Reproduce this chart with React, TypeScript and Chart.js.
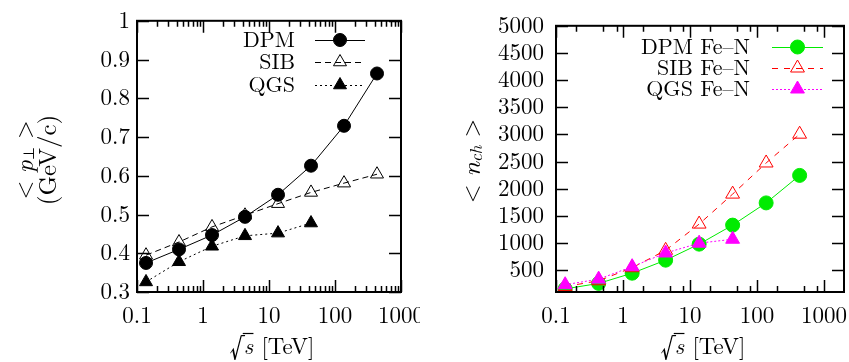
import React, { useEffect, useRef } from 'react';
import { Chart, registerables } from 'chart.js';
Chart.register(...registerables);

// ---- data ----
const sqrtS = [0.137, 0.433, 1.37, 4.33, 13.7, 43.3, 137, 433];
const ptDPM = [0.375, 0.41, 0.447, 0.494, 0.551, 0.626, 0.729, 0.864];
const ptSIB = [0.395, 0.429, 0.468, 0.498, 0.528, 0.557, 0.581, 0.604];
const ptQGS = [0.326, 0.378, 0.418, 0.445, 0.452, 0.478];
const nchDPM = [157, 258, 446, 686, 981, 1331, 1740, 2246];
const nchSIB = [200, 307, 547, 867, 1350, 1902, 2475, 3005];
const nchQGS = [234, 337, 566, 818, 999, 1071];
const xTickValues = [0.1, 1, 10, 100, 1000];
const ptTickValues = [0.3, 0.4, 0.5, 0.6, 0.7, 0.8, 0.9, 1.0];
const nchTickValues = [500, 1000, 1500, 2000, 2500, 3000, 3500, 4000, 4500, 5000];
const leftLabels = ['DPM', 'SIB', 'QGS'];
const rightLabels = ['DPM Fe\u2013N', 'SIB Fe\u2013N', 'QGS Fe\u2013N'];

const FAM = "'Latin Modern Roman', 'Liberation Serif', serif";

type Part = { t: string; font: string; dy?: number };

function drawParts(ctx: CanvasRenderingContext2D, parts: Part[], cx: number, cy: number, rotate: boolean) {
  let total = 0;
  const widths: number[] = [];
  for (const p of parts) {
    ctx.font = p.font;
    const w = ctx.measureText(p.t).width;
    widths.push(w);
    total += w;
  }
  ctx.save();
  ctx.translate(cx, cy);
  if (rotate) ctx.rotate(-Math.PI / 2);
  ctx.textBaseline = 'middle';
  ctx.textAlign = 'left';
  ctx.fillStyle = '#000';
  let x = -total / 2;
  const pos: number[] = [];
  parts.forEach((p, i) => {
    ctx.font = p.font;
    pos.push(x);
    ctx.fillText(p.t, x, p.dy || 0);
    x += widths[i];
  });
  ctx.restore();
  return { start: -total / 2, pos, widths };
}

function drawMarker(ctx: CanvasRenderingContext2D, style: string, x: number, y: number, r: number, fill: string, stroke: string) {
  ctx.beginPath();
  if (style === 'circle') {
    ctx.arc(x, y, r, 0, Math.PI * 2);
  } else {
    const a = (2 * Math.PI) / 3;
    for (let i = 0; i < 3; i++) {
      const px = x + Math.sin(i * a) * r;
      const py = y - Math.cos(i * a) * r;
      if (i === 0) ctx.moveTo(px, py);
      else ctx.lineTo(px, py);
    }
    ctx.closePath();
  }
  ctx.fillStyle = fill;
  ctx.fill();
  ctx.lineWidth = 1;
  ctx.setLineDash([]);
  ctx.strokeStyle = stroke;
  ctx.stroke();
}

type Deco = {
  minorMults: number[];
  legend: { textRight: number; lineL: number; lineR: number; rows: number[] };
  yTitle: { x: number; y: number; lines: Part[][]; spacing: number };
  xTitle: { x: number; y: number };
};

function makePlugin(deco: Deco) {
  return {
    id: 'deco',
    afterDraw(chart: any) {
      const { ctx, chartArea: a, scales } = chart;
      const xs = scales.x;
      const ys = scales.y;
      ctx.save();
      ctx.strokeStyle = '#000';
      ctx.lineWidth = 1.5;
      ctx.setLineDash([]);
      ctx.beginPath();
      const major = 12;
      const minor = 6;
      for (const v of xTickValues) {
        if (v < xs.min || v > xs.max) continue;
        const px = Math.round(xs.getPixelForValue(v)) + 0.5;
        ctx.moveTo(px, a.bottom);
        ctx.lineTo(px, a.bottom - major);
        ctx.moveTo(px, a.top);
        ctx.lineTo(px, a.top + major);
        for (const m of deco.minorMults) {
          const mv = v * m;
          if (mv >= xs.max) continue;
          const mx = Math.round(xs.getPixelForValue(mv)) + 0.5;
          ctx.moveTo(mx, a.bottom);
          ctx.lineTo(mx, a.bottom - minor);
          ctx.moveTo(mx, a.top);
          ctx.lineTo(mx, a.top + minor);
        }
      }
      for (const t of ys.ticks) {
        const py = Math.round(ys.getPixelForValue(t.value)) + 0.5;
        ctx.moveTo(a.left, py);
        ctx.lineTo(a.left + major, py);
        ctx.moveTo(a.right, py);
        ctx.lineTo(a.right - major, py);
      }
      ctx.stroke();
      ctx.lineWidth = 2;
      ctx.strokeRect(a.left, a.top, a.right - a.left, a.bottom - a.top);

      // legend
      const lg = deco.legend;
      chart.data.datasets.forEach((ds: any, i: number) => {
        const y = lg.rows[i];
        ctx.font = `22px ${FAM}`;
        ctx.fillStyle = '#000';
        ctx.textAlign = 'right';
        ctx.textBaseline = 'middle';
        ctx.fillText(ds.label, lg.textRight, y);
        ctx.beginPath();
        ctx.strokeStyle = ds.borderColor;
        ctx.lineWidth = ds.borderWidth;
        ctx.setLineDash(ds.borderDash || []);
        ctx.moveTo(lg.lineL, y + 0.5);
        ctx.lineTo(lg.lineR, y + 0.5);
        ctx.stroke();
        drawMarker(ctx, ds.pointStyle, (lg.lineL + lg.lineR) / 2, y, ds.pointRadius, ds.pointBackgroundColor, ds.borderColor);
      });

      // y title
      const yt = deco.yTitle;
      yt.lines.forEach((parts, i) => {
        drawParts(ctx, parts, yt.x + i * yt.spacing, yt.y, true);
      });

      // x title: sqrt(s) [TeV]
      const xt = deco.xTitle;
      const r = drawParts(
        ctx,
        [
          { t: '\u221A', font: `30px ${FAM}`, dy: 1 },
          { t: 's ', font: `italic 23px ${FAM}` },
          { t: '[TeV]', font: `23px ${FAM}` },
        ],
        xt.x,
        xt.y,
        false
      );
      ctx.beginPath();
      ctx.strokeStyle = '#000';
      ctx.lineWidth = 1.2;
      ctx.setLineDash([]);
      const oy = xt.y - 13.5;
      ctx.moveTo(xt.x + r.pos[1] - 1, oy);
      ctx.lineTo(xt.x + r.pos[1] + r.widths[1] * 0.55, oy);
      ctx.stroke();
      ctx.restore();
    },
  };
}

function makeConfig(p: {
  datasets: any[];
  yMin: number;
  yMax: number;
  yTicks: number[];
  yFmt: (v: number) => string;
  xMax: number;
  yWidth: number;
  padRight: number;
  yPad: number;
  deco: Deco;
}) {
  return {
    type: 'line',
    data: { datasets: p.datasets },
    options: {
      animation: false,
      responsive: false,
      devicePixelRatio: 1,
      layout: { padding: { left: 0, top: 20, right: p.padRight, bottom: 0 } },
      plugins: { legend: { display: false }, tooltip: { enabled: false } },
      scales: {
        x: {
          type: 'logarithmic',
          min: 0.1,
          max: p.xMax,
          grid: { display: false, drawTicks: false },
          border: { display: false },
          afterBuildTicks: (s: any) => {
            s.ticks = xTickValues.filter((v) => v <= p.xMax).map((v) => ({ value: v }));
          },
          afterFit: (s: any) => {
            s.height = 70;
          },
          ticks: {
            autoSkip: false,
            maxRotation: 0,
            minRotation: 0,
            padding: 10,
            color: '#000',
            font: { family: FAM, size: 23 },
            callback: (v: any) => String(v),
          },
        },
        y: {
          type: 'linear',
          min: p.yMin,
          max: p.yMax,
          grid: { display: false, drawTicks: false },
          border: { display: false },
          afterBuildTicks: (s: any) => {
            s.ticks = p.yTicks.map((v) => ({ value: v }));
          },
          afterFit: (s: any) => {
            s.width = p.yWidth;
          },
          ticks: {
            autoSkip: false,
            padding: p.yPad,
            color: '#000',
            font: { family: FAM, size: 23 },
            callback: (v: any) => p.yFmt(Number(v)),
          },
        },
      },
    },
    plugins: [makePlugin(p.deco)],
  };
}

function pts(xs: number[], ys: number[]) {
  return ys.map((y, i) => ({ x: xs[i], y }));
}

function ds(label: string, data: any, color: string, dash: number[], style: string, r: number, fill: string, order: number) {
  return {
    label,
    data,
    borderColor: color,
    borderWidth: 1,
    borderDash: dash,
    pointStyle: style,
    pointRadius: r,
    pointBackgroundColor: fill,
    pointBorderColor: color,
    pointBorderWidth: 1,
    fill: false,
    tension: 0,
    order,
  };
}

const GREEN = 'rgb(0,235,0)';
const RED = 'rgb(255,0,0)';
const MAGENTA = 'rgb(255,0,255)';

export default function App() {
  const leftRef = useRef<HTMLCanvasElement>(null);
  const rightRef = useRef<HTMLCanvasElement>(null);

  useEffect(() => {
    const leftCfg = makeConfig({
      datasets: [
        ds(leftLabels[0], pts(sqrtS, ptDPM), '#000', [], 'circle', 6.5, '#000', 3),
        ds(leftLabels[1], pts(sqrtS, ptSIB), '#000', [6, 4], 'triangle', 7.5, 'rgba(0,0,0,0)', 2),
        ds(leftLabels[2], pts(sqrtS, ptQGS), '#000', [2, 3], 'triangle', 7.5, '#000', 1),
      ],
      yMin: 0.3,
      yMax: 1.0,
      yTicks: ptTickValues,
      yFmt: (v) => String(Number(v.toFixed(1))),
      xMax: 1000,
      yWidth: 137,
      padRight: 59,
      yPad: 7,
      deco: {
        minorMults: [2, 3, 4, 5, 6, 7, 8, 9],
        legend: { textRight: 295, lineL: 315, lineR: 365, rows: [40, 62, 85] },
        yTitle: {
          x: 25,
          y: 160,
          spacing: 23,
          lines: [
            [
              { t: '< ', font: `24px ${FAM}` },
              { t: 'p', font: `italic 25px ${FAM}` },
              { t: '\u22A5', font: `15px ${FAM}`, dy: 4 },
              { t: ' >', font: `24px ${FAM}` },
            ],
            [{ t: '(GeV/c)', font: `25px ${FAM}` }],
          ],
        },
        xTitle: { x: 272, y: 347 },
      },
    });
    const rightCfg = makeConfig({
      datasets: [
        ds(rightLabels[0], pts(sqrtS, nchDPM), GREEN, [], 'circle', 7, GREEN, 3),
        ds(rightLabels[1], pts(sqrtS, nchSIB), RED, [6, 6], 'triangle', 8, 'rgba(0,0,0,0)', 2),
        ds(rightLabels[2], pts(sqrtS, nchQGS), MAGENTA, [2, 2], 'triangle', 8, MAGENTA, 1),
      ],
      yMin: 100,
      yMax: 5000,
      yTicks: nchTickValues,
      yFmt: (v) => String(Math.round(v)),
      xMax: 1990,
      yWidth: 136,
      padRight: 36,
      yPad: 12,
      deco: {
        minorMults: [2, 5, 8],
        legend: { textRight: 330, lineL: 352, lineR: 403, rows: [47, 68, 89] },
        yTitle: {
          x: 52,
          y: 161,
          spacing: 22,
          lines: [
            [
              { t: '< ', font: `24px ${FAM}` },
              { t: 'n', font: `italic 26px ${FAM}` },
              { t: 'ch', font: `italic 17px ${FAM}`, dy: 5 },
              { t: ' >', font: `24px ${FAM}` },
            ],
          ],
        },
        xTitle: { x: 283, y: 347 },
      },
    });
    const c1 = new Chart(leftRef.current as HTMLCanvasElement, leftCfg as any);
    const c2 = new Chart(rightRef.current as HTMLCanvasElement, rightCfg as any);
    return () => {
      c1.destroy();
      c2.destroy();
    };
  }, []);

  return (
    <div style={{ position: 'absolute', left: 0, top: 0, width: 849, height: 362, overflow: 'hidden', background: '#fff' }}>
      <div style={{ position: 'absolute', left: 0, top: 0, width: 420, height: 362, overflow: 'hidden' }}>
        <canvas ref={leftRef} width={460} height={362} style={{ display: 'block', width: 460, height: 362 }} />
      </div>
      <div style={{ position: 'absolute', left: 420, top: 0, width: 429, height: 362, overflow: 'hidden' }}>
        <canvas ref={rightRef} width={460} height={362} style={{ display: 'block', width: 460, height: 362 }} />
      </div>
    </div>
  );
}
